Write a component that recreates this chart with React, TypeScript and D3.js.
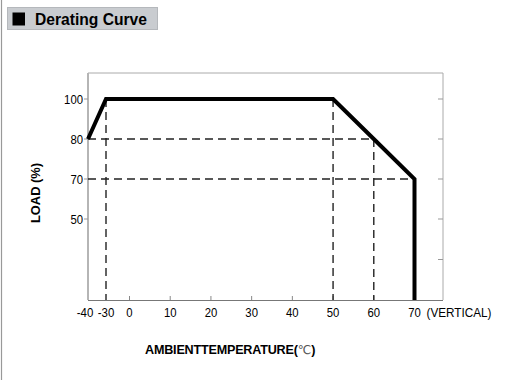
import React from "react";
import * as d3 from "d3";

const title = "Derating Curve";
const xTickValues = [-40, -30, 0, 10, 20, 30, 40, 50, 60, 70];
const yTickValues = [100, 80, 70, 50];
const yMinorTicks = [25];
const curveTemp = [-40, -30, 50, 60, 70, 70];
const curveLoad = [80, 100, 100, 80, 70, 0];
const dashV = [
  { t: -30, load: 100 },
  { t: 50, load: 100 },
  { t: 60, load: 80 },
];
const dashH = [
  { load: 80, t: 60 },
  { load: 70, t: 70 },
];
const xAxisTitle = "AMBIENTTEMPERATURE(";
const yAxisTitle = "LOAD (%)";

function labelWidth(s: string) {
  let w = 0;
  for (const c of s) w += c === "-" ? 4 : 6.3;
  return w;
}

export default function App() {
  const x = d3.scaleLinear().domain([-40, -30, 0, 70, 77]).range([88, 106, 129.5, 414.5, 443]);
  const y = d3.scaleLinear().domain([0, 50, 70, 80, 100, 113]).range([300, 219, 179, 139, 99, 73]);
  const x0 = x(-40), x1 = x(77), y0 = y(0), y1 = y(113);
  const pts: [number, number][] = curveTemp.map((t, i) => [t, curveLoad[i]]);
  const line = d3.line<[number, number]>().x((d) => x(d[0])).y((d) => y(d[1]));
  const font = "'Liberation Sans', Arial, sans-serif";
  return (
    <svg width={517} height={380} style={{ position: "absolute", left: 0, top: 0, background: "#fff" }} fontFamily={font}>
      <line x1={1.5} y1={0} x2={1.5} y2={380} stroke="#999" strokeWidth={1.2} />
      <rect x={7.5} y={7.5} width={150} height={22} fill="#c9ccd0" stroke="#b5b8bc" />
      <rect x={12.5} y={12.5} width={12.5} height={13} fill="#000" />
      <text x={35} y={25} fontSize={17} fontWeight="bold" textLength={112} lengthAdjust="spacingAndGlyphs">{title}</text>

      {/* plot frame */}
      <line x1={x0} y1={y1} x2={x1} y2={y1} stroke="#aaa" strokeWidth={1} />
      <line x1={x1} y1={y1} x2={x1} y2={y0} stroke="#aaa" strokeWidth={1} />
      <line x1={x0} y1={y1} x2={x0} y2={y0} stroke="#b5b5b5" strokeWidth={2} />
      <line x1={x0} y1={y0 + 0.5} x2={x1} y2={y0 + 0.5} stroke="#777" strokeWidth={1} />

      {/* ticks */}
      {yTickValues.map((v) => (
        <g key={"yl" + v}>
          <line x1={x0 - 4} x2={x0} y1={y(v)} y2={y(v)} stroke="#999" />
          <text x={83} y={y(v)} dy="0.36em" fontSize={13} textAnchor="end" textLength={labelWidth(String(v))} lengthAdjust="spacingAndGlyphs">{v}</text>
        </g>
      ))}
      {[...yTickValues, ...yMinorTicks].map((v) => (
        <line key={"yr" + v} x1={x1 - 5} x2={x1} y1={y(v)} y2={y(v)} stroke="#999" />
      ))}
      {xTickValues.filter((v) => v >= 0).map((v) => (
        <line key={"xt" + v} x1={x(v)} x2={x(v)} y1={y0 - 4} y2={y0} stroke="#888" />
      ))}
      {xTickValues.map((v, i) => (
        <text key={"xl" + v} x={x(v)} dx={i === 0 ? -3 : 0} y={317} fontSize={13} textAnchor="middle" textLength={labelWidth(String(v))} lengthAdjust="spacingAndGlyphs">{v}</text>
      ))}
      <text x={426.5} y={317} fontSize={13} textLength={65} lengthAdjust="spacingAndGlyphs">(VERTICAL)</text>

      {/* dashed guides */}
      {dashV.map((d) => (
        <line key={"dv" + d.t} x1={x(d.t)} x2={x(d.t)} y1={y(d.load)} y2={y0} stroke="#222" strokeWidth={1.4} strokeDasharray="8,5" />
      ))}
      {dashH.map((d) => (
        <line key={"dh" + d.load} x1={x0} x2={x(d.t)} y1={y(d.load)} y2={y(d.load)} stroke="#222" strokeWidth={1.4} strokeDasharray="8,5" />
      ))}

      <path d={line(pts) || ""} fill="none" stroke="#000" strokeWidth={4} strokeLinejoin="miter" />

      {/* axis titles */}
      <text transform="translate(39.5,193) rotate(-90)" fontSize={13} fontWeight="bold" textAnchor="middle" textLength={60} lengthAdjust="spacingAndGlyphs">{yAxisTitle}</text>
      <text x={145} y={354} fontSize={12.6} fontWeight="bold" letterSpacing={-0.2}>
        {xAxisTitle}
        <tspan fontWeight="normal" fill="#555" fontSize={12} fontFamily="'DejaVu Sans', sans-serif" letterSpacing={0}>℃</tspan>
        <tspan>)</tspan>
      </text>
    </svg>
  );
}
